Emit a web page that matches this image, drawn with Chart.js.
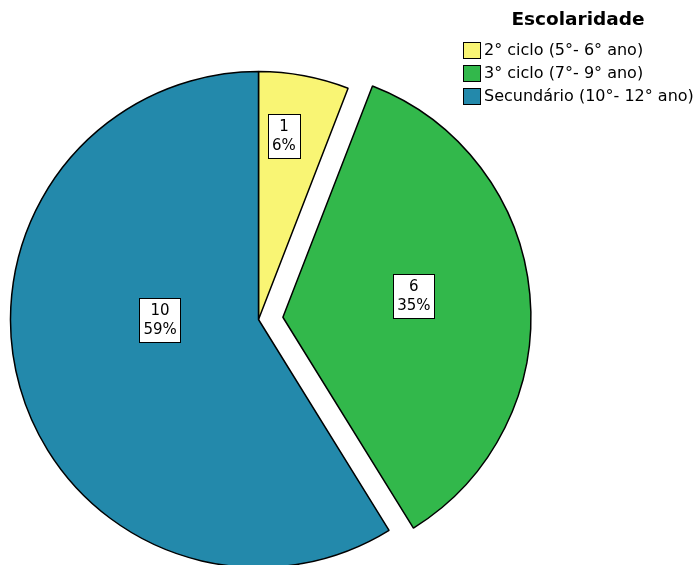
<!DOCTYPE html>
<html><head><meta charset="utf-8">
<script src="https://cdn.jsdelivr.net/npm/chart.js@4.4.0/dist/chart.umd.min.js"></script>
<style>html,body{margin:0;padding:0;background:#fff;} canvas{display:block}</style>
</head><body>
<canvas id="c" width="697" height="565"></canvas>
<script>
// ---- data ----
const legendTitle = 'Escolaridade';
const categories = ['2° ciclo (5°- 6° ano)', '3° ciclo (7°- 9° ano)', 'Secundário (10°- 12° ano)'];
const counts = [1, 6, 10];

// ---- style ----
const sliceColors = ['#f9f574', '#32b84b', '#2389ab'];
const explodeDistance = [0, 24.5, 0];
const labelRadiusFraction = [0.747, 0.535, 0.397];
const labelAngleShiftDeg = [-2.7, -3.9, 15.6];
const FONT = '"DejaVu Sans", sans-serif';

const total = counts.reduce((a, b) => a + b, 0);
const percentLabels = counts.map(v => Math.round(100 * v / total) + '%');

const explodePlugin = {
  id: 'explode',
  afterDatasetsUpdate(chart) {
    const ca = chart.chartArea;
    const cx = (ca.left + ca.right) / 2, cy = (ca.top + ca.bottom) / 2;
    chart.getDatasetMeta(0).data.forEach((arc, i) => {
      const mid = (arc.startAngle + arc.endAngle) / 2;
      const d = explodeDistance[i] || 0;
      arc.x = cx + Math.cos(mid) * d;
      arc.y = cy + Math.sin(mid) * d;
    });
  }
};

const labelPlugin = {
  id: 'sliceLabels',
  afterDatasetsDraw(chart) {
    const ctx = chart.ctx;
    ctx.save();
    ctx.font = '15px ' + FONT;
    ctx.textAlign = 'center';
    ctx.textBaseline = 'middle';
    chart.getDatasetMeta(0).data.forEach((arc, i) => {
      const mid = (arc.startAngle + arc.endAngle) / 2 + labelAngleShiftDeg[i] * Math.PI / 180;
      const r = arc.outerRadius * labelRadiusFraction[i];
      const x = arc.x + Math.cos(mid) * r;
      const y = arc.y + Math.sin(mid) * r;
      const lines = [String(counts[i]), percentLabels[i]];
      const w = Math.max(...lines.map(t => ctx.measureText(t).width)) + 8;
      const h = 44;
      const bx = Math.round(x - w / 2) + 0.5, by = Math.round(y - h / 2) + 0.5;
      ctx.fillStyle = '#fff';
      ctx.fillRect(bx, by, Math.round(w), h);
      ctx.strokeStyle = '#000';
      ctx.lineWidth = 1;
      ctx.strokeRect(bx, by, Math.round(w), h);
      ctx.fillStyle = '#000';
      ctx.fillText(lines[0], x, y - 9);
      ctx.fillText(lines[1], x, y + 10);
    });
    ctx.restore();
  }
};

const legendPlugin = {
  id: 'customLegend',
  afterDraw(chart) {
    const ctx = chart.ctx;
    ctx.save();
    ctx.fillStyle = '#000';
    ctx.font = 'bold 18.5px ' + FONT;
    ctx.textAlign = 'center';
    ctx.textBaseline = 'middle';
    ctx.fillText(legendTitle, 578, 20);
    ctx.font = '16px ' + FONT;
    ctx.textAlign = 'left';
    categories.forEach((c, i) => {
      const top = 42.5 + i * 23;
      ctx.fillStyle = sliceColors[i];
      ctx.fillRect(463.5, top, 17, 16);
      ctx.strokeStyle = '#000';
      ctx.lineWidth = 1;
      ctx.strokeRect(463.5, top, 17, 16);
      ctx.fillStyle = '#000';
      ctx.fillText(c, 484, top + 8.5);
    });
    ctx.restore();
  }
};

new Chart(document.getElementById('c'), {
  type: 'pie',
  data: {
    labels: categories,
    datasets: [{
      data: counts,
      backgroundColor: sliceColors,
      borderColor: '#000',
      borderWidth: 1.5,
      hoverOffset: 0
    }]
  },
  options: {
    responsive: false,
    devicePixelRatio: 1,
    animation: false,
    radius: 248,
    layout: { padding: { left: 0, right: 180, top: 74, bottom: 0 } },
    plugins: { legend: { display: false }, tooltip: { enabled: false } },
    events: []
  },
  plugins: [explodePlugin, labelPlugin, legendPlugin]
});
</script>
</body></html>
